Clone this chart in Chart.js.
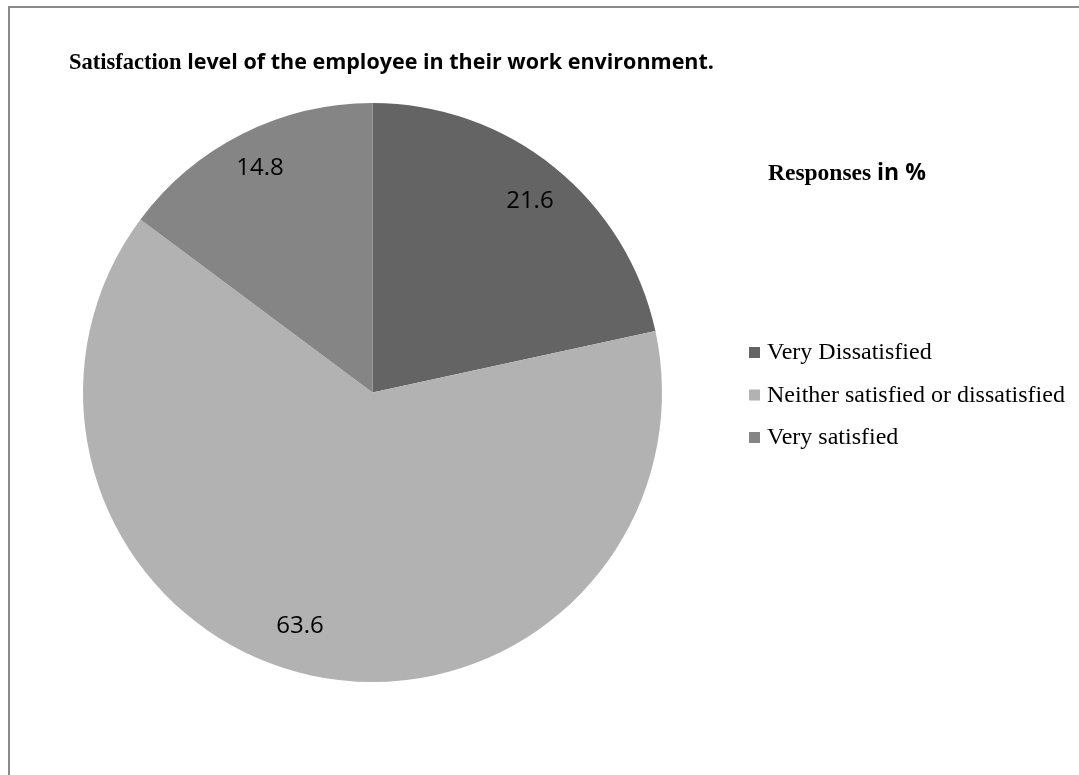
<!DOCTYPE html>
<html>
<head>
<meta charset="utf-8">
<script src="https://cdn.jsdelivr.net/npm/chart.js@4/dist/chart.umd.min.js"></script>
<style>
  html, body { margin: 0; padding: 0; background: #fff; }
  #wrap { position: relative; width: 1079px; height: 775px; overflow: hidden; }
  #frame { position: absolute; left: 8px; top: 6px; width: 1200px; height: 900px;
           border-top: 2px solid #8a8a8a; border-left: 2px solid #8a8a8a; pointer-events: none; }
  canvas { position: absolute; left: 0; top: 0; }
</style>
</head>
<body>
<div id="wrap">
  <canvas id="c" width="1079" height="775"></canvas>
  <div id="frame"></div>
</div>
<script>
const categories = ["Very Dissatisfied", "Neither satisfied or dissatisfied", "Very satisfied"];
const responses = [21.6, 63.6, 14.8];
const sliceColors = ["#646464", "#b2b2b2", "#858585"];

const overlay = {
  id: 'overlay',
  afterDatasetsDraw(chart, args, opts) {
    const ctx = chart.ctx;
    const meta = chart.getDatasetMeta(0);
    const ds = chart.data.datasets[0];
    ctx.save();
    // value labels
    ctx.fillStyle = '#000';
    ctx.font = '24px "Open Sans", sans-serif';
    ctx.textAlign = 'center';
    ctx.textBaseline = 'middle';
    meta.data.forEach((arc, i) => {
      const p = arc.getProps(['x', 'y', 'startAngle', 'endAngle', 'outerRadius'], true);
      const mid = (p.startAngle + p.endAngle) / 2 + opts.angleShift[i] * Math.PI / 180;
      const r = p.outerRadius * opts.radial[i];
      ctx.fillText(String(ds.data[i]), p.x + Math.cos(mid) * r, p.y + Math.sin(mid) * r);
    });
    // title (mixed fonts)
    ctx.textAlign = 'left';
    ctx.textBaseline = 'alphabetic';
    const drawMixed = (parts, x, y) => {
      parts.forEach(([txt, font]) => {
        ctx.font = font;
        ctx.fillText(txt, x, y);
        x += ctx.measureText(txt).width;
      });
    };
    drawMixed([
      ['Satisfaction ', 'bold 22.5px "Liberation Serif", serif'],
      ['level of the employee in their work environment.', 'bold 21.5px "Open Sans", sans-serif']
    ], 69, 69);
    drawMixed([
      ['Responses ', 'bold 23.5px "Liberation Serif", serif'],
      ['in %', 'bold 23px "Open Sans", sans-serif']
    ], 768, 180);
    // legend
    ctx.font = '24px "Liberation Serif", serif';
    ctx.textBaseline = 'middle';
    chart.data.labels.forEach((lab, i) => {
      const y = 352 + i * 42.5;
      ctx.fillStyle = ds.backgroundColor[i];
      ctx.fillRect(749, y - 5, 11, 11);
      ctx.fillStyle = '#000';
      ctx.fillText(lab, 767, y + 1);
    });
    ctx.restore();
  }
};

new Chart(document.getElementById('c'), {
  type: 'pie',
  data: {
    labels: categories,
    datasets: [{ data: responses, backgroundColor: sliceColors, borderWidth: 0 }]
  },
  options: {
    responsive: false,
    animation: false,
    layout: { padding: { left: 83, right: 417, top: 103, bottom: 93 } },
    plugins: {
      legend: { display: false },
      tooltip: { enabled: false },
      overlay: { radial: [0.857, 0.845, 0.867], angleShift: [0.5, 5, 0] }
    }
  },
  plugins: [overlay]
});
</script>
</body>
</html>
